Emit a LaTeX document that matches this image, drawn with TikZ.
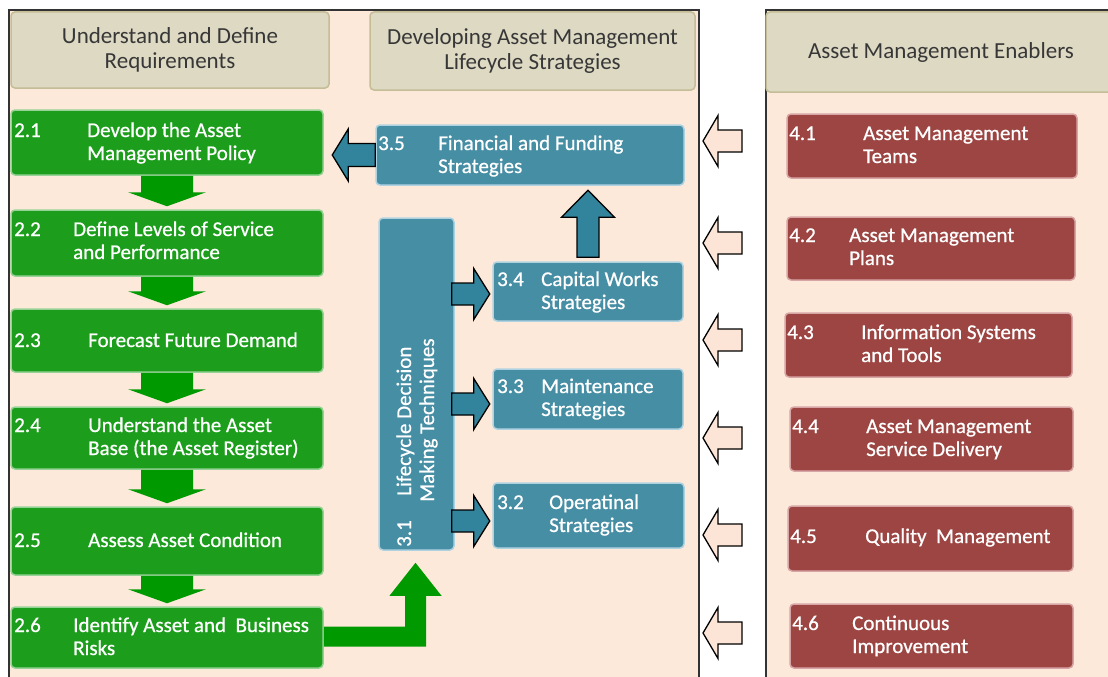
\documentclass[tikz,border=0pt]{standalone}
\usepackage{fontspec}
\setmainfont{Carlito}
\newfontfamily\boxfont[FakeBold=0.7]{Carlito}
\usetikzlibrary{calc}
\definecolor{peach}{RGB}{253,233,218}
\definecolor{hdrfill}{RGB}{221,217,195}
\definecolor{hdrline}{RGB}{196,189,151}
\definecolor{hdrtext}{RGB}{55,55,55}
\definecolor{gbox}{RGB}{28,158,28}
\definecolor{gglow}{RGB}{150,210,150}
\definecolor{garr}{RGB}{0,153,0}
\definecolor{tbox}{RGB}{70,142,164}
\definecolor{tglow}{RGB}{175,210,225}
\definecolor{tarr}{RGB}{49,132,155}
\definecolor{rbox}{RGB}{156,69,66}
\definecolor{rglow}{RGB}{215,165,165}
\definecolor{parr}{RGB}{252,228,214}
\newcommand\mlines[1]{\begin{tabular}[t]{@{}l@{}}#1\end{tabular}}
\newcommand\greendown[2]{\fill[garr] ($(#1.south)+(-26,0)$) -- ($(#2.north)+(-26,-17)$) -- ++(-13,0) -- ($(#2.north)+(0,-3)$) -- ($(#2.north)+(39,-17)$) -- ++(-13,0) -- ($(#1.south)+(26,0)$) -- cycle;}
\newcommand\tealright[1]{\filldraw[tarrow] ($(#1)+(0,-11)$) -- ++(22,0) -- ++(0,-14.5) -- ++(16,25.5) -- ++(-16,25.5) -- ++(0,-14.5) -- ++(-22,0) -- cycle;}
\newcommand\peachleft[1]{\filldraw[parrow] (#1) -- ++(15,-25.5) -- ++(0,14.5) -- ++(24,0) -- ++(0,22) -- ++(-24,0) -- ++(0,14.5) -- cycle;}
\begin{document}
\begin{tikzpicture}[x=1pt,y=-1pt,
  frame/.style={draw=black!80, line width=1.4pt, fill=peach},
  hdr/.style={draw=hdrline, line width=1.5pt, fill=hdrfill, rounded corners=4pt, text=hdrtext, align=center, font=\fontsize{23}{25}\selectfont, inner sep=0pt},
  boxbase/.style={rectangle, rounded corners=4pt, line width=1.5pt, inner sep=0pt},
  greenbox/.style={boxbase, fill=gbox, draw=gglow},
  tealbox/.style={boxbase, fill=tbox, draw=tglow},
  redbox/.style={boxbase, fill=rbox, draw=rglow},
  lbl/.style={text=white, inner sep=0pt, anchor=base west, font=\boxfont\fontsize{21}{23}\selectfont},
  tarrow/.style={fill=tarr, draw=black, line width=1.3pt, line join=miter},
  parrow/.style={fill=parr, draw=black, line width=1.3pt, line join=miter}
]
\useasboundingbox (0,0) rectangle (1108,677);
\fill[white] (0,0) rectangle (1108,677);
% panels
\draw[frame] (9,10) rectangle (699,700);
\draw[frame] (766,10) rectangle (1125,700);
% headers
\node[hdr, minimum width=318pt, minimum height=76pt] (h1) at (170,50) {Understand and Define\\Requirements};
\node[hdr, minimum width=325pt, minimum height=78pt] (h2) at (532.5,51) {Developing Asset Management\\Lifecycle Strategies};
\node[hdr, minimum width=350pt, minimum height=80pt] (h3) at (941,52) {Asset Management Enablers};
% green boxes
\node[greenbox, minimum width=312pt, minimum height=65pt] (b21) at (167,142.5) {};
\node[greenbox, minimum width=312pt, minimum height=66pt] (b22) at (167,243) {};
\node[greenbox, minimum width=312pt, minimum height=63pt] (b23) at (167,340.5) {};
\node[greenbox, minimum width=312pt, minimum height=62pt] (b24) at (167,438) {};
\node[greenbox, minimum width=312pt, minimum height=68pt] (b25) at (167,541) {};
\node[greenbox, minimum width=312pt, minimum height=61pt] (b26) at (167,637.5) {};
% teal boxes
\node[tealbox, minimum width=308pt, minimum height=60pt] (b35) at (530,155) {};
\node[tealbox, minimum width=75pt, minimum height=332pt] (b31) at (416.5,384) {};
\node[tealbox, minimum width=190pt, minimum height=59pt] (b34) at (588,291.5) {};
\node[tealbox, minimum width=190pt, minimum height=60pt] (b33) at (588,399) {};
\node[tealbox, minimum width=191pt, minimum height=65pt] (b32) at (588.5,515.5) {};
% red boxes
\node[redbox, minimum width=290pt, minimum height=64pt] (b41) at (932,146) {};
\node[redbox, minimum width=288pt, minimum height=63pt] (b42) at (931,248.5) {};
\node[redbox, minimum width=287pt, minimum height=64pt] (b43) at (928.5,345) {};
\node[redbox, minimum width=283pt, minimum height=64pt] (b44) at (931.5,439) {};
\node[redbox, minimum width=285pt, minimum height=65pt] (b45) at (930.5,538.5) {};
\node[redbox, minimum width=283pt, minimum height=64pt] (b46) at (931.5,636) {};
% green labels
\node[lbl] (n21) at (14,137) {2.1};
\node[lbl] (t21) at (87,137) {\mlines{Develop the Asset\\Management Policy}};
\node[lbl] (n22) at (14,236) {2.2};
\node[lbl] (t22) at (73,236) {\mlines{Define Levels of Service\\and Performance}};
\node[lbl] (n23) at (14,347) {2.3};
\node[lbl] (t23) at (88,347) {Forecast Future Demand};
\node[lbl] (n24) at (14,432) {2.4};
\node[lbl] (t24) at (88,432) {\mlines{Understand the Asset\\Base (the Asset Register)}};
\node[lbl] (n25) at (14,547) {2.5};
\node[lbl] (t25) at (88,547) {Assess Asset Condition};
\node[lbl] (n26) at (14,632) {2.6};
\node[lbl] (t26) at (73,632) {\mlines{Identify Asset and\ \ Business\\Risks}};
% teal labels
\node[lbl] (n35) at (378,150) {3.5};
\node[lbl] (t35) at (438,150) {\mlines{Financial and Funding\\Strategies}};
\node[lbl] (n34) at (497,286) {3.4};
\node[lbl] (t34) at (541,286) {\mlines{Capital Works\\Strategies}};
\node[lbl] (n33) at (497,393) {3.3};
\node[lbl] (t33) at (541,393) {\mlines{Maintenance\\Strategies}};
\node[lbl] (n32) at (497,509) {3.2};
\node[lbl] (t32) at (549,509) {\mlines{Operatinal\\Strategies}};
\node[lbl, rotate=90] (t31) at (411,547) {\mlines{\makebox[51pt][l]{3.1}Lifecycle Decision\\\hspace*{45pt}Making Techniques}};
% red labels
\node[lbl] (n41) at (789,140) {4.1};
\node[lbl] (t41) at (863,140) {\mlines{Asset Management\\Teams}};
\node[lbl] (n42) at (789,242) {4.2};
\node[lbl] (t42) at (849,242) {\mlines{Asset Management\\Plans}};
\node[lbl] (n43) at (787,339) {4.3};
\node[lbl] (t43) at (861,339) {\mlines{Information Systems\\and Tools}};
\node[lbl] (n44) at (792,433) {4.4};
\node[lbl] (t44) at (866,433) {\mlines{Asset Management\\Service Delivery}};
\node[lbl] (n45) at (790,543) {4.5};
\node[lbl] (t45) at (865,543) {Quality\ \ Management};
\node[lbl] (n46) at (792,630) {4.6};
\node[lbl] (t46) at (852,630) {\mlines{Continuous\\Improvement}};
% green down arrows
\greendown{b21}{b22}
\greendown{b22}{b23}
\greendown{b23}{b24}
\greendown{b24}{b25}
\greendown{b25}{b26}
% green L arrow from 2.6 to 3.1
\coordinate (lt) at ($(b31.south)+(-1,12)$);
\fill[garr] ($(b26.east)+(0,-11)$) -- ($(lt |- b26.east)+(-10.5,-11)$) -- ($(lt)+(-10.5,33)$) -- ++(-15.5,0) -- (lt) -- ($(lt)+(26,33)$) -- ++(-15.5,0) -- ($(lt |- b26.east)+(10.5,9)$) -- ($(b26.east)+(0,9)$) -- cycle;
% teal arrow 3.5 -> 2.1
\filldraw[tarrow] ($(b35.west)+(0,-11.5)$) -- ++(-27,0) -- ++(0,-14.5) -- ++(-16,26) -- ++(16,26) -- ++(0,-14.5) -- ++(27,0) -- cycle;
% teal arrow 3.4 -> 3.5
\filldraw[tarrow] ($(b34.north)+(-11,-4)$) -- ++(0,-40) -- ++(-15.5,0) -- ++(26.5,-27) -- ++(26.5,27) -- ++(-15.5,0) -- ++(0,40) -- cycle;
% teal arrows 3.1 -> 3.4, 3.3, 3.2
\coordinate (c34) at ($(b31.east |- b34.west)+(-3,2.5)$);
\coordinate (c33) at ($(b31.east |- b33.west)+(-3,5)$);
\coordinate (c32) at ($(b31.east |- b32.west)+(-3,5.5)$);
\tealright{c34}
\tealright{c33}
\tealright{c32}
% peach enabler arrows
\coordinate (gapx) at (703,0);
\coordinate (p1) at ($(gapx |- b41.west)+(0,-5)$);
\coordinate (p2) at ($(gapx |- b42.west)+(0,-5.5)$);
\coordinate (p3) at ($(gapx |- b43.west)+(0,-5)$);
\coordinate (p4) at ($(gapx |- b44.west)+(0,-1)$);
\coordinate (p5) at ($(gapx |- b45.west)+(0,-3.5)$);
\coordinate (p6) at ($(gapx |- b46.west)+(0,-3)$);
\peachleft{p1}
\peachleft{p2}
\peachleft{p3}
\peachleft{p4}
\peachleft{p5}
\peachleft{p6}
\end{tikzpicture}
\end{document}
